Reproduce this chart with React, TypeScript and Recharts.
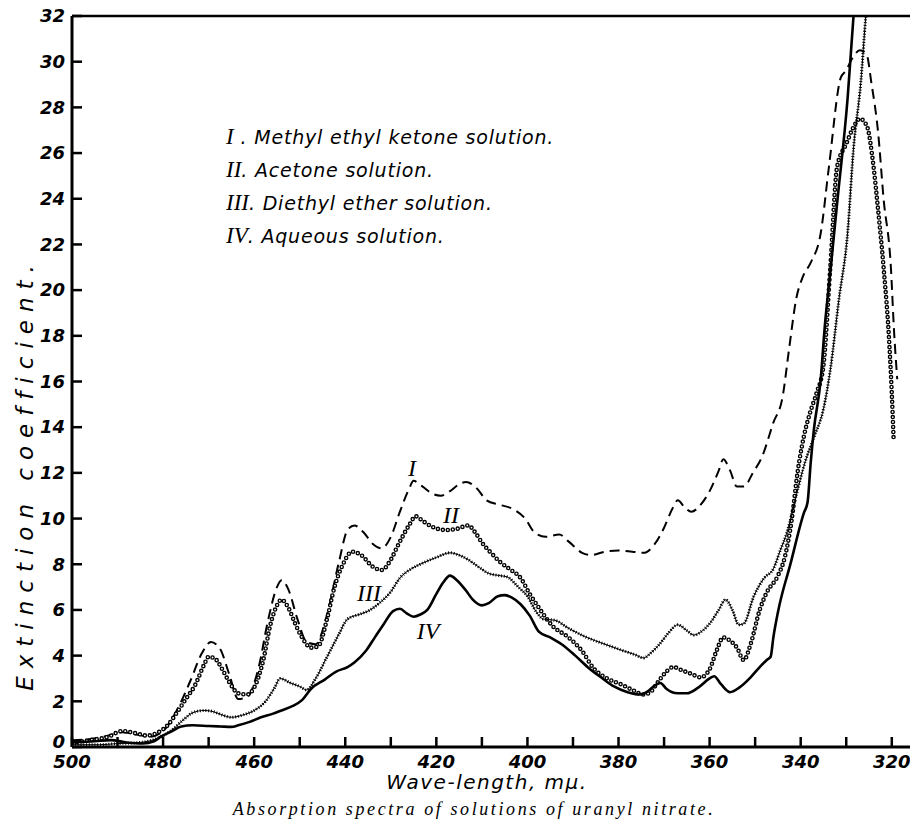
import React from 'react';
import { LineChart, Line, XAxis, YAxis, ReferenceLine } from 'recharts';

// wave-length (mμ) and extinction coefficient
const waveI = [500, 496, 492, 489, 486, 483, 480, 477, 474, 471.5, 469.5, 467.5, 465.5, 463.5, 461.5, 459, 457, 455, 454, 452.5, 450.5, 448.5, 446.5, 444, 441.5, 439.5, 438, 436, 434, 432, 430, 428, 426, 425, 423, 421, 419, 417, 415, 413.5, 411, 409, 406, 403, 400.5, 398.5, 396, 393, 391, 388, 386, 383, 380, 377, 374.5, 372, 370, 368, 367, 365.5, 364, 362, 360, 358, 357, 355.5, 354, 352.5, 350.5, 348.5, 346, 344, 342.5, 341, 339.5, 337.8, 335.6, 333.8, 331.2, 330.1, 328.5, 327, 325.5, 324.5, 323, 321.8, 320.2, 319.5, 318.8];
const extI = [0.3, 0.35, 0.5, 0.65, 0.55, 0.45, 0.7, 1.6, 2.9, 4.1, 4.6, 4.3, 3.2, 2.1, 2.2, 3.5, 5.5, 7.0, 7.3, 6.9, 5.6, 4.6, 4.5, 5.8, 8.0, 9.5, 9.7, 9.4, 8.9, 8.7, 9.2, 10.3, 11.3, 11.65, 11.4, 11.1, 11.0, 11.2, 11.5, 11.6, 11.3, 10.8, 10.6, 10.4, 10.0, 9.4, 9.2, 9.3, 9.0, 8.5, 8.4, 8.55, 8.6, 8.55, 8.5, 8.9, 9.6, 10.5, 10.8, 10.5, 10.3, 10.6, 11.2, 12.1, 12.6, 12.1, 11.4, 11.4, 12.0, 12.7, 14.2, 15.3, 17.5, 19.6, 20.6, 21.2, 22.5, 25.4, 29.3, 29.6, 30.2, 30.5, 30.3, 29.1, 26.9, 24.0, 21.0, 18.2, 16.1];

const waveII = [500, 496, 492, 489, 486, 483.5, 481, 479, 477, 475, 473, 471, 470, 468.5, 467, 465.5, 463.5, 461.5, 460, 458, 456.5, 455, 454, 452.5, 451, 449.5, 447.5, 446, 444, 442.5, 440.5, 438.5, 436.5, 434, 432, 430, 428.5, 426, 424.5, 423, 421, 418, 415.5, 413, 411.5, 410, 408, 406, 404, 401.5, 399.5, 397.5, 394.5, 391, 388, 385.5, 382.5, 379.5, 377, 374.5, 373, 371.5, 369.5, 368, 366, 364, 362, 360, 358.5, 357, 355.5, 354, 352.5, 351, 349, 347.5, 345, 343.5, 342, 340.7, 339.3, 338, 336.5, 335, 333.5, 332, 330, 328.5, 327, 325.5, 324, 323, 321.8, 320.5, 320, 319.6];
const extII = [0.2, 0.3, 0.45, 0.7, 0.6, 0.5, 0.65, 0.95, 1.5, 2.1, 2.7, 3.6, 3.95, 3.85, 3.4, 2.85, 2.35, 2.3, 2.6, 3.8, 5.3, 6.2, 6.45, 6.1, 5.4, 4.8, 4.35, 4.4, 5.6, 6.9, 8.0, 8.55, 8.4, 7.9, 7.75, 8.2, 8.8, 9.7, 10.1, 9.9, 9.65, 9.5, 9.55, 9.7, 9.4, 8.95, 8.5, 8.1, 7.8, 7.4, 6.7, 6.1, 5.3, 4.8, 4.2, 3.45, 3.0, 2.75, 2.5, 2.3, 2.4, 2.8, 3.3, 3.5, 3.35, 3.2, 3.05, 3.4, 4.2, 4.8, 4.65, 4.35, 3.8, 4.5, 6.0, 6.75, 7.5, 8.3, 9.9, 12.0, 13.6, 14.6, 15.5, 16.7, 21.0, 25.4, 26.4, 27.1, 27.5, 27.2, 25.4, 23.5, 21.0, 17.5, 15.5, 13.5];

const waveIII = [500, 494, 490, 485, 481, 478, 475.5, 473.5, 471, 469, 467, 465, 462.5, 460, 457.5, 455.5, 454.3, 452, 450, 448.5, 446.5, 444, 441.5, 439.5, 437, 435, 432.5, 430, 428, 425.5, 423, 420, 417, 415, 413, 410.5, 408.5, 406, 404.5, 402, 400, 398, 396.5, 394, 391, 387, 383, 379.5, 376.5, 374.5, 373, 371, 369, 367, 365, 363.5, 361.5, 359.8, 358, 356.5, 355, 353.6, 352.5, 350.3, 348, 346, 344.5, 343, 341, 339, 337, 335, 333.5, 331.6, 329.7, 328.4, 326.8, 325.7, 325];
const extIII = [0.1, 0.1, 0.15, 0.2, 0.4, 0.75, 1.2, 1.5, 1.6, 1.55, 1.4, 1.3, 1.4, 1.6, 2.0, 2.6, 3.0, 2.8, 2.65, 2.5, 3.0, 3.95, 4.9, 5.6, 5.8, 5.95, 6.3, 6.8, 7.4, 7.8, 8.05, 8.3, 8.5, 8.4, 8.2, 7.85, 7.6, 7.5, 7.45, 7.0, 6.6, 5.9, 5.6, 5.55, 5.2, 4.8, 4.5, 4.25, 4.05, 3.9, 4.1, 4.5, 5.0, 5.35, 5.1, 4.9, 5.1, 5.45, 6.0, 6.45, 6.0, 5.35, 5.4, 6.6, 7.4, 7.8, 8.6, 9.4, 11.0, 12.5, 13.6, 14.8, 16.5, 19.6, 22.5, 26.2, 29.1, 32, 33.5];

const waveIV = [500, 495, 491.5, 488, 484.5, 482, 480.5, 478, 476, 473.5, 470, 467.5, 465, 463.5, 461, 458.5, 456, 454, 451.5, 449.5, 447.5, 444.5, 442, 439.5, 438, 435.5, 433.5, 431.5, 429.5, 428, 426.5, 425, 423.5, 422, 420, 418.5, 417, 415.5, 413.5, 412, 410, 408.5, 406.5, 405, 403.5, 401.5, 399.5, 397.5, 395, 392.5, 389.5, 386.5, 383.5, 381, 378, 375.5, 373.5, 372, 370.8, 369.5, 367, 365, 362.5, 360, 359, 357.5, 355.5, 353.5, 351, 349, 347.5, 346.6, 346, 345, 342.2, 339.3, 338.5, 337.8, 337.1, 335.6, 334.8, 333.4, 331.9, 329.7, 328.4, 328];
const extIV = [0.2, 0.25, 0.3, 0.2, 0.15, 0.25, 0.45, 0.7, 0.9, 0.95, 0.92, 0.9, 0.88, 0.95, 1.1, 1.3, 1.45, 1.6, 1.8, 2.05, 2.55, 2.95, 3.3, 3.5, 3.7, 4.2, 4.8, 5.4, 5.95, 6.05, 5.85, 5.7, 5.8, 6.0, 6.7, 7.2, 7.5, 7.3, 6.85, 6.45, 6.2, 6.3, 6.6, 6.65, 6.55, 6.25, 5.75, 5.05, 4.8, 4.5, 4.0, 3.45, 3.0, 2.65, 2.4, 2.3, 2.45, 2.7, 2.8, 2.55, 2.35, 2.35, 2.6, 3.0, 3.1, 2.75, 2.4, 2.6, 3.05, 3.5, 3.8, 3.95, 4.8, 5.9, 8.05, 10.25, 10.7, 12.45, 13.9, 16.1, 18.2, 21.0, 24.0, 28.4, 32, 33];

const xTicks = [320, 330, 340, 350, 360, 370, 380, 390, 400, 410, 420, 430, 440, 450, 460, 470, 480, 490, 500];
const yTicks = [0, 2, 4, 6, 8, 10, 12, 14, 16, 18, 20, 22, 24, 26, 28, 30, 32];

const legendItems = [
  { num: 'I', text: 'Methyl ethyl ketone solution.' },
  { num: 'II', text: 'Acetone solution.' },
  { num: 'III', text: 'Diethyl ether solution.' },
  { num: 'IV', text: 'Aqueous solution.' },
];

const toRows = (w: number[], v: number[]) => w.map((x, i) => ({ w: x, v: v[i] }));
const dataI = toRows(waveI, extI);
const dataII = toRows(waveII, extII);
const dataIII = toRows(waveIII, extIII);
const dataIV = toRows(waveIV, extIV);

const tickFont = {
  fontFamily: 'DejaVu Sans',
  fontStyle: 'italic',
  fontWeight: 'bold',
  fontSize: 18,
  fill: '#000',
} as const;

function XTick({ x, y, payload }: any) {
  return (
    <g>
      <line x1={x} y1={y} x2={x} y2={y - 10} stroke="#000" strokeWidth={2.5} />
      {payload.value % 20 === 0 && (
        <text x={x} y={y + 21} textAnchor="middle" {...tickFont}>
          {payload.value}
        </text>
      )}
    </g>
  );
}

function YTick({ x, y, payload }: any) {
  // the 0 label sits a little above the axis corner
  const shift = payload.value === 0 ? -5 : 0;
  return (
    <g>
      <line x1={x} y1={y} x2={x + 10} y2={y} stroke="#000" strokeWidth={2.5} />
      <text x={x - 7} y={y + shift} dy="0.35em" textAnchor="end" {...tickFont}>
        {payload.value}
      </text>
    </g>
  );
}

const serifNum: React.CSSProperties = {
  fontFamily: 'Liberation Serif',
  fontStyle: 'italic',
};

export default function App() {
  const W = 910;
  const H = 819;
  const common = {
    type: 'monotone' as const,
    dataKey: 'v',
    dot: false,
    activeDot: false,
    isAnimationActive: false,
  };

  return (
    <div style={{ position: 'absolute', left: 0, top: 0, width: W, height: H, background: '#fff' }}>
      <LineChart width={W} height={H} margin={{ top: 16, right: 0, bottom: 32, left: 12 }}>
        <XAxis
          dataKey="w"
          type="number"
          domain={[316, 500]}
          reversed
          allowDataOverflow
          ticks={xTicks}
          interval={0}
          height={40}
          tickSize={0}
          tickMargin={0}
          tickLine={false}
          axisLine={{ stroke: '#000', strokeWidth: 3 }}
          tick={<XTick />}
        />
        <YAxis
          type="number"
          domain={[0, 32]}
          allowDataOverflow
          ticks={yTicks}
          interval={0}
          width={60}
          tickSize={0}
          tickMargin={0}
          tickLine={false}
          axisLine={{ stroke: '#000', strokeWidth: 3 }}
          tick={<YTick />}
        />
        <ReferenceLine y={32} stroke="#000" strokeWidth={2.5} />

        {/* I: dashed */}
        <Line {...common} data={dataI} stroke="#000" strokeWidth={2} strokeDasharray="10 6" />
        {/* II: chain of small open circles */}
        <Line {...common} data={dataII} stroke="#000" strokeWidth={4.6} strokeDasharray="0 5" strokeLinecap="round" />
        <Line {...common} data={dataII} stroke="#fff" strokeWidth={1.8} strokeDasharray="0 5" strokeLinecap="round" />
        {/* III: wavy thin line */}
        <Line {...common} data={dataIII} stroke="#000" strokeWidth={1} />
        <Line {...common} data={dataIII} stroke="#000" strokeWidth={3} strokeDasharray="1 1.8" />
        {/* IV: solid */}
        <Line {...common} data={dataIV} stroke="#000" strokeWidth={2.6} />
      </LineChart>

      {/* legend */}
      {legendItems.map((it, i) => (
        <div
          key={it.num}
          style={{
            position: 'absolute',
            left: 226,
            top: 136 + i * 33,
            transform: 'translateY(-50%)',
            whiteSpace: 'nowrap',
            fontSize: 19,
            lineHeight: 1,
          }}
        >
          <span style={{ ...serifNum, fontSize: 23 }}>{it.num}</span>
          <span style={{ fontFamily: 'DejaVu Sans', fontStyle: 'italic', letterSpacing: 0.8 }}>
            {it.num === 'I' ? ' . ' : '. '}
            {it.text}
          </span>
        </div>
      ))}

      {/* curve labels */}
      {[
        { t: 'I', x: 412, y: 468 },
        { t: 'II', x: 451, y: 515 },
        { t: 'III', x: 369, y: 593 },
        { t: 'IV', x: 428, y: 631 },
      ].map((c) => (
        <div
          key={c.t}
          style={{
            ...serifNum,
            position: 'absolute',
            left: c.x,
            top: c.y,
            transform: 'translate(-50%, -50%)',
            fontSize: 24,
            lineHeight: 1,
          }}
        >
          {c.t}
        </div>
      ))}

      {/* axis titles */}
      <div
        style={{
          position: 'absolute',
          left: 25,
          top: 474,
          transform: 'translate(-50%, -50%) rotate(-90deg)',
          whiteSpace: 'nowrap',
          fontFamily: 'DejaVu Sans',
          fontStyle: 'italic',
          fontSize: 23,
          letterSpacing: 8,
          lineHeight: 1,
        }}
      >
        Extinction coefficient.
      </div>
      <div
        style={{
          position: 'absolute',
          left: 487,
          top: 782,
          transform: 'translate(-50%, -50%)',
          whiteSpace: 'nowrap',
          fontFamily: 'DejaVu Sans',
          fontStyle: 'italic',
          fontSize: 20,
          letterSpacing: 1.5,
          lineHeight: 1,
        }}
      >
        Wave-length, mμ.
      </div>
      <div
        style={{
          position: 'absolute',
          left: 474,
          top: 809,
          transform: 'translate(-50%, -50%)',
          whiteSpace: 'nowrap',
          fontFamily: 'Liberation Serif',
          fontStyle: 'italic',
          fontSize: 18,
          letterSpacing: 2.6,
          lineHeight: 1,
        }}
      >
        Absorption spectra of solutions of uranyl nitrate.
      </div>
    </div>
  );
}
